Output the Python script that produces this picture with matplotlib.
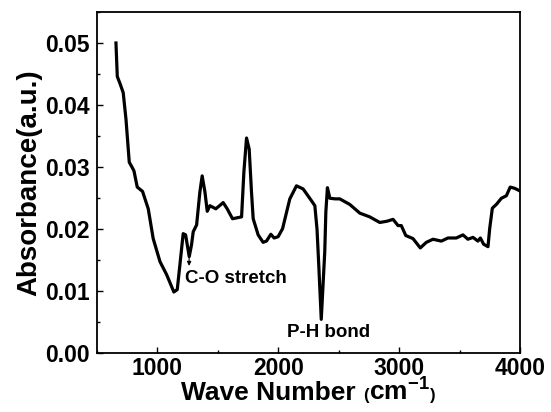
import matplotlib
matplotlib.use("Agg")
import matplotlib.pyplot as plt
from matplotlib.ticker import MultipleLocator, FormatStrFormatter
from matplotlib.offsetbox import TextArea, HPacker, AnchoredOffsetbox

plt.rcParams['font.family'] = ['Liberation Sans', 'DejaVu Sans']
plt.rcParams['font.weight'] = 'bold'
plt.rcParams['mathtext.fontset'] = 'custom'
plt.rcParams['mathtext.rm'] = 'Liberation Sans:bold'
plt.rcParams['mathtext.bf'] = 'Liberation Sans:bold'
plt.rcParams['mathtext.it'] = 'Liberation Sans:bold'

wavenumber = [657, 668, 690, 717, 740, 767, 790, 806, 833, 877, 924, 965, 1021,
              1076, 1136, 1164, 1186, 1213, 1233, 1263, 1282, 1296, 1324, 1351,
              1370, 1393, 1412, 1434, 1483, 1544, 1577, 1621, 1696, 1715, 1737,
              1759, 1778, 1792, 1833, 1874, 1902, 1938, 1965, 1998, 2035, 2095,
              2150, 2205, 2274, 2302, 2320, 2335, 2355, 2370, 2384, 2393, 2406,
              2426, 2470, 2508, 2591, 2674, 2756, 2839, 2899, 2949, 2990, 3017,
              3054, 3114, 3174, 3224, 3279, 3348, 3403, 3472, 3527, 3568, 3610,
              3651, 3671, 3698, 3734, 3748, 3770, 3803, 3845, 3886, 3918, 3955,
              3996]
absorbance = [0.0500, 0.0446, 0.0435, 0.0420, 0.0377, 0.0308, 0.0300, 0.0294,
              0.0268, 0.0261, 0.0233, 0.0185, 0.0148, 0.0127, 0.0099, 0.0103,
              0.0143, 0.0193, 0.0191, 0.0156, 0.0175, 0.0196, 0.0207, 0.0260,
              0.0286, 0.0260, 0.0229, 0.0238, 0.0233, 0.0243, 0.0233, 0.0217,
              0.0220, 0.0292, 0.0347, 0.0329, 0.0260, 0.0217, 0.0191, 0.0179,
              0.0181, 0.0192, 0.0186, 0.0188, 0.0201, 0.0249, 0.0270, 0.0265,
              0.0246, 0.0238, 0.0200, 0.0140, 0.0055, 0.0111, 0.0164, 0.0228,
              0.0267, 0.0250, 0.0249, 0.0249, 0.0240, 0.0226, 0.0220, 0.0211,
              0.0213, 0.0216, 0.0206, 0.0206, 0.0190, 0.0185, 0.0170, 0.0179,
              0.0184, 0.0181, 0.0186, 0.0186, 0.0191, 0.0184, 0.0187, 0.0181,
              0.0186, 0.0176, 0.0172, 0.0201, 0.0234, 0.0240, 0.0250, 0.0254,
              0.0268, 0.0266, 0.0262]

annot_labels = ["C-O stretch", "P-H bond"]
annot_x = [1227, 2070]
annot_y = [0.0121, 0.0034]
arrow_x = 1262
arrow_y = [0.0160, 0.0141]

fig = plt.figure(figsize=(5.51, 4.12), dpi=100)
ax = fig.add_axes([0.176, 0.142, 0.768, 0.829])

ax.plot(wavenumber, absorbance, color='black', lw=2.3, solid_joinstyle='round')

ax.set_xlim(500, 4000)
ax.set_ylim(0, 0.055)
ax.xaxis.set_major_locator(MultipleLocator(1000))
ax.xaxis.set_minor_locator(MultipleLocator(500))
ax.yaxis.set_major_locator(MultipleLocator(0.01))
ax.yaxis.set_minor_locator(MultipleLocator(0.005))
ax.yaxis.set_major_formatter(FormatStrFormatter('%.2f'))

ax.tick_params(which='both', direction='in', width=1.0, labelsize=16.5)
ax.tick_params(which='major', length=4.5)
ax.tick_params(which='minor', length=2.5)
ax.tick_params(axis='x', pad=2.5)
ax.tick_params(axis='y', pad=5)
for lab in ax.get_xticklabels() + ax.get_yticklabels():
    lab.set_fontweight('bold')
for sp in ax.spines.values():
    sp.set_linewidth(1.3)

ax.set_ylabel('Absorbance(a.u.)', fontsize=20, fontweight='bold', labelpad=2)

# x label built from pieces: big text, small parentheses, superscript
big = dict(fontsize=19, fontweight='bold', color='black')
small = dict(fontsize=12, fontweight='bold', color='black')
parts = [TextArea("Wave Number ", textprops=big),
         TextArea("(", textprops=small),
         TextArea(r"cm$^{-1}$", textprops=big),
         TextArea(")", textprops=small)]
pack = HPacker(children=parts, align='baseline', pad=0, sep=0)
box = AnchoredOffsetbox(loc='upper center', child=pack, pad=0, borderpad=0,
                        frameon=False, bbox_to_anchor=(0.5, -0.072),
                        bbox_transform=ax.transAxes)
ax.add_artist(box)

for lab, x, y in zip(annot_labels, annot_x, annot_y):
    ax.text(x, y, lab, fontsize=13.5, fontweight='bold', ha='left', va='center')

ax.annotate('', xy=(arrow_x, arrow_y[1]), xytext=(arrow_x, arrow_y[0]),
            arrowprops=dict(arrowstyle='-|>', color='black', lw=0.8,
                            mutation_scale=6, shrinkA=0, shrinkB=0))

fig.savefig('out.png', dpi=100)
